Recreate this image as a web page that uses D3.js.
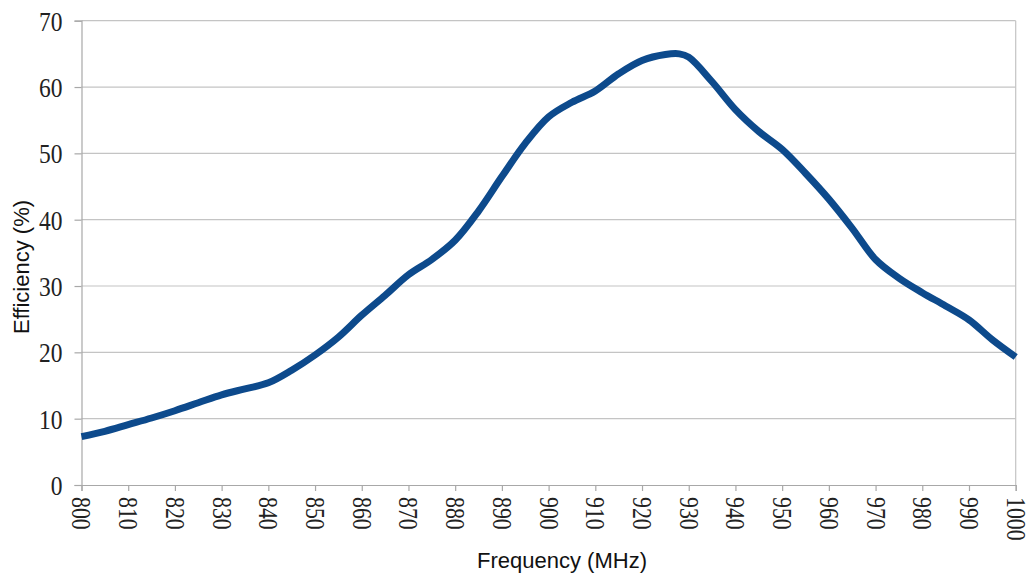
<!DOCTYPE html>
<html>
<head>
<meta charset="utf-8">
<script src="https://cdn.jsdelivr.net/npm/d3@7"></script>
<style>
  body { margin: 0; background: #fff; }
  svg { display: block; }
</style>
</head>
<body>
<script>
// values
const freq = [800, 805, 810, 815, 820, 825, 830, 835, 840, 845, 850, 855, 860, 865, 870, 875,
  880, 885, 890, 895, 900, 905, 910, 915, 920, 925, 928, 930, 935, 940, 945, 950, 955, 960,
  965, 970, 975, 980, 985, 990, 995, 1000];
const efficiency = [7.3, 8.1, 9.1, 10.1, 11.2, 12.4, 13.6, 14.5, 15.4, 17.3, 19.6, 22.3, 25.6,
  28.6, 31.7, 34.0, 36.9, 41.3, 46.5, 51.5, 55.5, 57.7, 59.4, 62.0, 64.0, 64.9, 65.0, 64.5,
  60.8, 56.6, 53.3, 50.6, 47.0, 43.1, 38.7, 34.0, 31.2, 29.0, 27.0, 24.9, 21.9, 19.3];
const xTicks = [800, 810, 820, 830, 840, 850, 860, 870, 880, 890, 900, 910, 920, 930, 940,
  950, 960, 970, 980, 990, 1000];
const yTicks = [0, 10, 20, 30, 40, 50, 60, 70];

const width = 1030, height = 581;
const plotL = 81.5, plotR = 1015.7, plotT = 20.7, plotB = 485;

const svg = d3.select('body').append('svg')
  .attr('width', width)
  .attr('height', height);

const x = d3.scaleLinear().domain([800, 1000]).range([plotL, plotR]);
const y = d3.scaleLinear().domain([0, 70]).range([plotB, plotT]);

// horizontal gridlines
svg.append('g')
  .selectAll('line')
  .data(yTicks.filter(d => d > 0))
  .join('line')
  .attr('x1', plotL).attr('x2', plotR)
  .attr('y1', d => y(d)).attr('y2', d => y(d))
  .attr('stroke', '#c4c4c4')
  .attr('stroke-width', 1.2);

// right edge of the plot
svg.append('line')
  .attr('x1', plotR).attr('x2', plotR)
  .attr('y1', plotT).attr('y2', plotB)
  .attr('stroke', '#c4c4c4')
  .attr('stroke-width', 1.2);

// y axis
const yAxis = svg.append('g')
  .attr('transform', `translate(${plotL},0)`)
  .call(d3.axisLeft(y).tickValues(yTicks).tickSize(7).tickFormat(d3.format('d')));
yAxis.select('.domain').attr('stroke', '#a8a8a8').attr('stroke-width', 1.2);
yAxis.selectAll('.tick line').attr('stroke', '#a8a8a8').attr('stroke-width', 1.2);
yAxis.selectAll('.tick text')
  .attr('fill', '#222')
  .style('font-family', '"Liberation Serif", "Times New Roman", serif')
  .style('font-size', '28px')
  .attr('text-anchor', 'end')
  .attr('x', 0)
  .attr('dy', '0.34em')
  .attr('transform', 'translate(-19,0) scale(0.84,1)');

// x axis
const xAxis = svg.append('g')
  .attr('transform', `translate(0,${plotB})`)
  .call(d3.axisBottom(x).tickValues(xTicks).tickSize(6).tickFormat(d3.format('d')));
xAxis.select('.domain').attr('stroke', '#a8a8a8').attr('stroke-width', 1.2);
xAxis.selectAll('.tick line').attr('stroke', '#a8a8a8').attr('stroke-width', 1.2);
xAxis.selectAll('.tick text')
  .attr('fill', '#222')
  .style('font-family', '"Liberation Serif", "Times New Roman", serif')
  .style('font-size', '28px')
  .attr('text-anchor', 'start')
  .attr('x', 0).attr('y', 0).attr('dy', '0.34em')
  .attr('transform', 'translate(0,12) rotate(90) scale(0.78,1)');

// the efficiency curve
const line = d3.line()
  .x((d, i) => x(freq[i]))
  .y(d => y(d))
  .curve(d3.curveCatmullRom.alpha(0.5));

svg.append('path')
  .datum(efficiency)
  .attr('d', line)
  .attr('fill', 'none')
  .attr('stroke', '#0d4a8c')
  .attr('stroke-width', 7)
  .attr('stroke-linejoin', 'round')
  .attr('stroke-linecap', 'butt');

// axis titles
svg.append('text')
  .attr('x', 562).attr('y', 568)
  .attr('text-anchor', 'middle')
  .style('font-family', '"Liberation Sans", Arial, sans-serif')
  .style('font-size', '22px')
  .attr('fill', '#111')
  .text('Frequency (MHz)');

svg.append('text')
  .attr('transform', 'translate(29,267) rotate(-90)')
  .attr('text-anchor', 'middle')
  .style('font-family', '"Liberation Sans", Arial, sans-serif')
  .style('font-size', '22px')
  .attr('fill', '#111')
  .text('Efficiency (%)');
</script>
</body>
</html>
